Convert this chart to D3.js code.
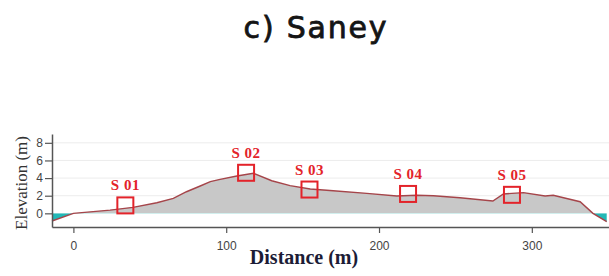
<!DOCTYPE html>
<html>
  <head>
    <script src="https://cdn.jsdelivr.net/npm/d3@7/dist/d3.min.js"></script>
    <style>
      body { margin: 0; background: #fff; }
    </style>
  </head>
  <body>
    <svg width="609" height="276"></svg>
    <script>
      // profile (distance m, elevation m)
      const distance = [-14, 0, 24, 39, 54.6, 65.4, 74, 83, 89.6, 96, 107, 117.8, 129.8, 141.8, 155, 170, 192, 211.6, 224.7, 235.6, 253, 274.5, 281.4, 294.5, 308.7, 314, 331.6, 340, 349];
      const elevation = [-0.87, 0, 0.37, 0.68, 1.2, 1.7, 2.45, 3.1, 3.6, 3.86, 4.24, 4.55, 3.7, 3.14, 2.76, 2.57, 2.27, 1.97, 2.05, 2.0, 1.77, 1.4, 2.2, 2.35, 1.97, 2.05, 1.32, 0, -0.95];

      // sample sites
      const siteNames = ['S 01', 'S 02', 'S 03', 'S 04', 'S 05'];
      const siteDist = [34, 113, 154.5, 219, 287];
      const siteElev = [0.9, 4.6, 2.7, 2.2, 2.1];

      const xTicks = [0, 100, 200, 300];
      const yTicks = [0, 2, 4, 6, 8];
      const title = 'c) Saney';

      const svg = d3.select('svg');
      const plotL = 52, plotR = 609, plotT = 134, plotB = 227;

      const x = d3.scaleLinear().domain([-14, 350.5]).range([plotL, plotR]);
      const y = d3.scaleLinear().domain([-1.55, 9]).range([plotB, plotT]);

      const profile = distance.map((d, i) => ({d: d, e: elevation[i]}));

      // gridlines
      svg.append('g').selectAll('line')
        .data(yTicks.filter(t => t > 0))
        .enter().append('line')
        .attr('x1', plotL).attr('x2', plotR)
        .attr('y1', d => y(d)).attr('y2', d => y(d))
        .attr('stroke', '#ececec')
        .attr('stroke-width', 1);

      // clips above / below zero
      const defs = svg.append('defs');
      defs.append('clipPath').attr('id', 'above')
        .append('rect').attr('x', 0).attr('y', 0).attr('width', 609).attr('height', y(0));
      defs.append('clipPath').attr('id', 'below')
        .append('rect').attr('x', 0).attr('y', y(0)).attr('width', 609).attr('height', 276 - y(0));

      const area = d3.area()
        .x(p => x(p.d))
        .y0(y(0))
        .y1(p => y(p.e));

      svg.append('path').datum(profile)
        .attr('d', area)
        .attr('fill', '#c8c8c8')
        .attr('clip-path', 'url(#above)');
      svg.append('path').datum(profile)
        .attr('d', area)
        .attr('fill', '#22b8b6')
        .attr('clip-path', 'url(#below)');

      const line = d3.line()
        .x(p => x(p.d))
        .y(p => y(p.e));
      svg.append('path').datum(profile)
        .attr('d', line)
        .attr('fill', 'none')
        .attr('stroke', '#a5454a')
        .attr('stroke-width', 1.4);

      // axes
      const xAxis = svg.append('g')
        .attr('transform', `translate(0,${plotB})`)
        .call(d3.axisBottom(x).tickValues(xTicks).tickSize(6).tickSizeOuter(0));
      const yAxis = svg.append('g')
        .attr('transform', `translate(${plotL},0)`)
        .call(d3.axisLeft(y).tickValues(yTicks).tickSize(7).tickSizeOuter(0));
      [xAxis, yAxis].forEach(g => {
        g.select('.domain').attr('stroke', '#555').attr('stroke-width', 1.5);
        g.selectAll('.tick line').attr('stroke', '#555').attr('stroke-width', 1.2);
        g.selectAll('.tick text')
          .attr('fill', '#444')
          .style('font-family', 'Liberation Sans, Arial, sans-serif')
          .style('font-size', '12px');
      });
      xAxis.selectAll('.tick text').attr('dy', '1.2em');
      yAxis.selectAll('.tick text').attr('x', -9);

      // site markers
      const sites = svg.append('g').selectAll('g')
        .data(siteNames.map((n, i) => ({name: n, d: siteDist[i], e: siteElev[i]})))
        .enter().append('g')
        .attr('transform', s => `translate(${x(s.d)},${y(s.e)})`);
      sites.append('rect')
        .attr('x', -8).attr('y', -8)
        .attr('width', 16).attr('height', 16)
        .attr('fill', 'none')
        .attr('stroke', '#e3232a')
        .attr('stroke-width', 2);
      sites.append('text')
        .attr('y', -15)
        .attr('text-anchor', 'middle')
        .attr('fill', '#e3232a')
        .style('font-family', 'Liberation Serif, serif')
        .style('font-weight', 'bold')
        .style('font-size', '15px')
        .style('letter-spacing', '0.5px')
        .text(s => s.name);

      // labels
      svg.append('text')
        .attr('x', 316).attr('y', 38)
        .attr('text-anchor', 'middle')
        .style('font-family', 'DejaVu Sans, sans-serif')
        .style('font-size', '30px')
        .style('letter-spacing', '1.8px')
        .attr('fill', '#151515')
        .attr('stroke', '#151515')
        .attr('stroke-width', 0.8)
        .text(title);

      svg.append('text')
        .attr('x', 304).attr('y', 264)
        .attr('text-anchor', 'middle')
        .attr('fill', '#1c1c36')
        .style('font-family', 'Liberation Serif, serif')
        .style('font-weight', 'bold')
        .style('font-size', '20px')
        .text('Distance (m)');

      svg.append('text')
        .attr('transform', 'translate(27,183) rotate(-90)')
        .attr('text-anchor', 'middle')
        .attr('fill', '#333')
        .style('font-family', 'Liberation Serif, serif')
        .style('font-size', '17px')
        .text('Elevation (m)');
    </script>
  </body>
</html>
